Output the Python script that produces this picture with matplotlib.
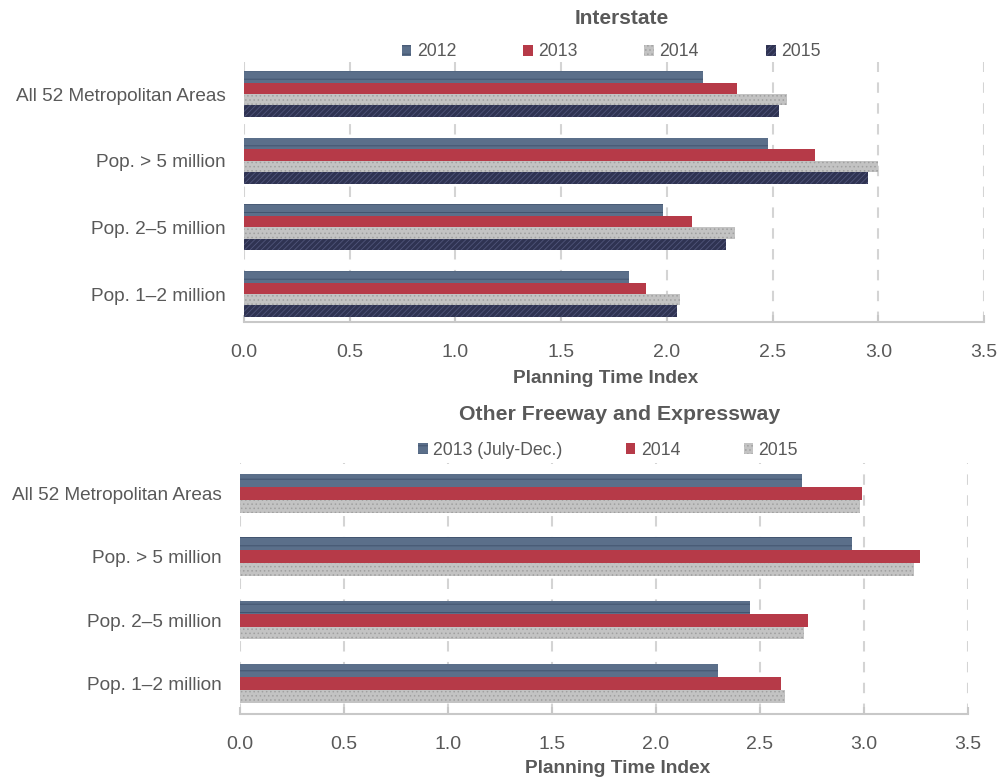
import numpy as np
import matplotlib
matplotlib.use('Agg')
import matplotlib.pyplot as plt

plt.rcParams['font.family'] = ['Liberation Sans', 'DejaVu Sans']
plt.rcParams['hatch.linewidth'] = 0.6

# Data
regions = ['All 52 Metropolitan Areas', 'Pop. > 5 million', 'Pop. 2\u20135 million', 'Pop. 1\u20132 million']

inter_years = ['2012', '2013', '2014', '2015']
inter_2012 = [2.17, 2.48, 1.98, 1.82]
inter_2013 = [2.33, 2.70, 2.12, 1.90]
inter_2014 = [2.57, 3.00, 2.32, 2.06]
inter_2015 = [2.53, 2.95, 2.28, 2.05]

other_years = ['2013 (July-Dec.)', '2014', '2015']
other_2013 = [2.70, 2.94, 2.45, 2.30]
other_2014 = [2.99, 3.27, 2.73, 2.60]
other_2015 = [2.98, 3.24, 2.71, 2.62]

xticks = [0.0, 0.5, 1.0, 1.5, 2.0, 2.5, 3.0, 3.5]

# face, hatch colour, hatch
styles = [('#5b6f8a', '#3e506b', '--'),
          ('#b63a48', '#b63a48', None),
          ('#c3c3c3', '#a0a0a0', '....'),
          ('#2f3352', '#50557a', '//////')]
styles_other = [styles[0], styles[1], styles[2]]

text_col = '#595959'
grid_col = '#d4d4d4'


def draw_panel(ax, series, labels, sty, bar_h, ylim, xlab_x):
    y = np.arange(len(regions))
    n = len(series)
    handles = []
    for i, vals in enumerate(series):
        face, hcol, hatch = sty[i]
        off = (i - (n - 1) / 2.0) * bar_h
        b = ax.barh(y + off, vals, height=bar_h, color=face, edgecolor=hcol,
                    linewidth=0, hatch=hatch, label=labels[i], zorder=3)
        handles.append(b)
    ax.set_ylim(ylim)
    ax.set_yticks(y)
    ax.set_yticklabels(regions, fontsize=13.7, color=text_col)
    ax.set_xlim(0, 3.5)
    ax.set_xticks(xticks)
    ax.set_xticklabels(['{:.1f}'.format(t) for t in xticks], fontsize=14, color=text_col)
    ax.xaxis.grid(True, color=grid_col, linestyle=(0, (5, 5)), linewidth=1.5, zorder=0)
    for s in ['top', 'right', 'left']:
        ax.spines[s].set_visible(False)
    ax.spines['bottom'].set_color('#c8c8c8')
    ax.spines['bottom'].set_linewidth(1.5)
    ax.tick_params(axis='y', length=0, pad=13)
    ax.tick_params(axis='x', direction='in', length=5, width=1.5, color='#c8c8c8', pad=16)
    ax.set_xlabel('Planning Time Index', fontsize=13.8, fontweight='bold', color=text_col)
    ax.xaxis.set_label_coords(xlab_x, -0.185)
    return handles


fig = plt.figure(figsize=(10.03, 7.78), dpi=100)

ax1 = fig.add_axes([0.2433, 0.5861, 0.7378, 0.3342])
h1 = draw_panel(ax1, [inter_2012, inter_2013, inter_2014, inter_2015], inter_years,
                styles, 0.172, (3.42, -0.48), (606 - 244) / 740)
fig.text(622 / 1003, 1 - 18 / 778, 'Interstate', ha='center', va='center',
         fontsize=15, fontweight='bold', color=text_col)
fig.legend(handles=h1, labels=inter_years, loc='center', ncol=4,
           bbox_to_anchor=(611 / 1003, 1 - 52 / 778), frameon=False,
           fontsize=12.7, handlelength=0.55, handleheight=0.55, handletextpad=0.3,
           columnspacing=3.8, labelcolor=text_col)

ax2 = fig.add_axes([0.2393, 0.0823, 0.7258, 0.3226])
h2 = draw_panel(ax2, [other_2013, other_2014, other_2015], other_years,
                styles_other, 0.206, (3.49, -0.49), (618 - 240) / 728)
fig.text(620 / 1003, 1 - 414 / 778, 'Other Freeway and Expressway', ha='center', va='center',
         fontsize=15.3, fontweight='bold', color=text_col)
fig.legend(handles=h2, labels=other_years, loc='center', ncol=3,
           bbox_to_anchor=(608 / 1003, 1 - 450 / 778), frameon=False,
           fontsize=12.7, handlelength=0.55, handleheight=0.55, handletextpad=0.3,
           columnspacing=3.6, labelcolor=text_col)

fig.savefig('out.png', dpi=100)
